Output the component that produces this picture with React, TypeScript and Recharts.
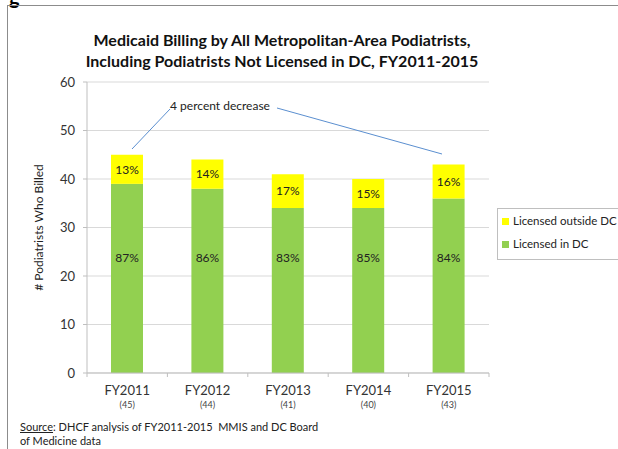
import { BarChart, Bar, XAxis, YAxis, CartesianGrid, LabelList } from 'recharts';

const years = ['FY2011', 'FY2012', 'FY2013', 'FY2014', 'FY2015'];
const totals = ['(45)', '(44)', '(41)', '(40)', '(43)'];
const inDC = [39, 38, 34, 34, 36];
const outsideDC = [6, 6, 7, 6, 7];
const inDCPct = ['87%', '86%', '83%', '85%', '84%'];
const outsideDCPct = ['13%', '14%', '17%', '15%', '16%'];
const yTicks = [0, 10, 20, 30, 40, 50, 60];

const data = years.map((y, i) => ({
  name: y,
  total: totals[i],
  inDC: inDC[i],
  outsideDC: outsideDC[i],
  inDCPct: inDCPct[i],
  outsideDCPct: outsideDCPct[i],
}));

const FONT = 'Lato, "Open Sans", sans-serif';
const GREEN = '#92D050';
const YELLOW = '#FFFF00';

const YearTick = (props: any) => {
  const { x, y, payload, index } = props;
  const half = payload?.offset ?? 40;
  return (
    <g>
      <line x1={x - half} y1={y} x2={x - half} y2={y + 4} stroke='#BFBFBF' />
      {index === years.length - 1 && (
        <line x1={x + half} y1={y} x2={x + half} y2={y + 4} stroke='#BFBFBF' />
      )}
      <text x={x} y={y + 22} textAnchor='middle' fontSize={13} fill='#333' fontFamily={FONT}>
        {payload.value}
      </text>
      <text x={x} y={y + 35} textAnchor='middle' fontSize={9} fill='#444' fontFamily={FONT}>
        {totals[index]}
      </text>
    </g>
  );
};

const App = () => {
  return (
    <div style={{ position: 'absolute', left: 0, top: 0, width: 618, height: 449, overflow: 'hidden', background: '#fff', fontFamily: FONT }}>
      {/* cut-off heading and frame */}
      <div style={{ position: 'absolute', left: 9, top: -16, fontSize: 20, fontWeight: 700, color: '#000' }}>g</div>
      <div style={{ position: 'absolute', left: 7, top: 5, width: 640, height: 460, borderLeft: '1px solid #8c8c8c', borderTop: '1px solid #8c8c8c' }} />

      <div style={{ position: 'absolute', left: 0, top: 29, width: 564, textAlign: 'center', fontSize: 16, fontWeight: 700, lineHeight: '21px', color: '#111' }}>
        Medicaid Billing by All Metropolitan-Area Podiatrists,<br />
        Including Podiatrists Not Licensed in DC, FY2011-2015
      </div>

      <div style={{ position: 'absolute', left: 0, top: 0 }}>
        <BarChart width={618} height={449} data={data} margin={{ top: 82, right: 129, bottom: 36, left: 47 }} barSize={32}>
          <CartesianGrid vertical={false} stroke='#D9D9D9' />
          <YAxis
            width={40}
            domain={[0, 60]}
            ticks={yTicks}
            interval={0}
            tickSize={4}
            tickMargin={8}
            axisLine={{ stroke: '#BFBFBF' }}
            tickLine={{ stroke: '#BFBFBF' }}
            tick={{ fontSize: 13, fill: '#333', fontFamily: FONT }}
            label={{ value: '# Podiatrists Who Billed', angle: -90, position: 'insideLeft', offset: -8, style: { textAnchor: 'middle', fontSize: 12, fill: '#222', fontFamily: FONT } }}
          />
          <XAxis
            dataKey='name'
            height={40}
            interval={0}
            tickSize={0}
            tickMargin={0}
            tickLine={false}
            axisLine={{ stroke: '#BFBFBF' }}
            tick={<YearTick />}
          />
          <Bar dataKey='inDC' stackId='a' fill={GREEN} isAnimationActive={false}>
            <LabelList dataKey='inDCPct' position='insideBottom' offset={111} style={{ fontSize: 12, fill: '#222', fontFamily: FONT }} />
          </Bar>
          <Bar dataKey='outsideDC' stackId='a' fill={YELLOW} isAnimationActive={false}>
            <LabelList dataKey='outsideDCPct' position='center' style={{ fontSize: 12, fill: '#222', fontFamily: FONT }} />
          </Bar>
        </BarChart>
      </div>

      {/* annotation */}
      <svg width={618} height={449} style={{ position: 'absolute', left: 0, top: 0, pointerEvents: 'none' }}>
        <line x1={132} y1={149} x2={170} y2={109} stroke='#5B8FD0' strokeWidth={1} />
        <line x1={277} y1={108} x2={442} y2={154} stroke='#5B8FD0' strokeWidth={1} />
        <text x={220} y={110} textAnchor='middle' fontSize={12} fill='#222' fontFamily={FONT}>4 percent decrease</text>
      </svg>

      {/* legend */}
      <div style={{ position: 'absolute', left: 497, top: 208, width: 140, height: 50, border: '1px solid #BFBFBF', fontSize: 11.5, color: '#222' }}>
        {[{ label: 'Licensed outside DC', color: YELLOW }, { label: 'Licensed in DC', color: GREEN }].map((it, i) => (
          <div key={it.label} style={{ position: 'absolute', left: 4, top: 4 + i * 23, display: 'flex', alignItems: 'center', whiteSpace: 'nowrap', lineHeight: '16px' }}>
            <span style={{ display: 'inline-block', width: 7, height: 7, background: it.color, marginRight: 4 }} />
            {it.label}
          </div>
        ))}
      </div>

      <div style={{ position: 'absolute', left: 20, top: 420, fontSize: 11, lineHeight: '14px', color: '#222' }}>
        <span style={{ textDecoration: 'underline' }}>Source</span>: DHCF analysis of FY2011-2015&nbsp; MMIS and DC Board<br />
        of Medicine data
      </div>
    </div>
  );
};

export default App;
